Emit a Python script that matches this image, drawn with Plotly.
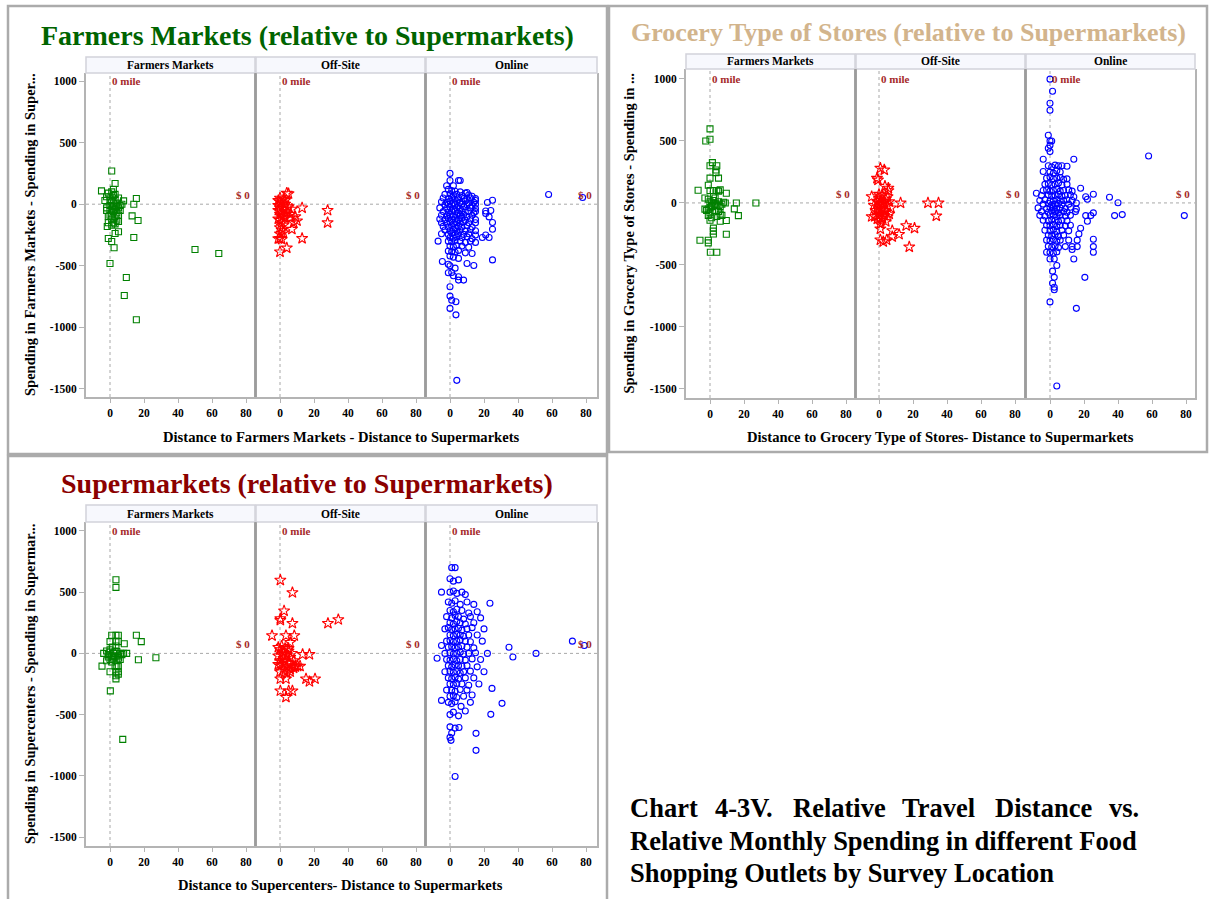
import plotly.graph_objects as go

# ---------------- text ----------------
panel_labels = ["Farmers Markets", "Off-Site", "Online"]
chart_titles = ["Farmers Markets (relative to Supermarkets)",
                "Grocery Type of Stores (relative to Supermarkets)",
                "Supermarkets (relative to Supermarkets)"]
x_titles = ["Distance to Farmers Markets - Distance to Supermarkets",
            "Distance to Grocery Type of Stores- Distance to Supermarkets",
            "Distance to Supercenters- Distance to Supermarkets"]
y_titles = ["Spending in Farmers Markets - Spending in Super...",
            "Spending in Grocery Type of Stores - Spending in ...",
            "Spending in Supercenters - Spending in Supermar..."]
x_tick_vals = [0, 20, 40, 60, 80]
y_tick_vals = [-1500, -1000, -500, 0, 500, 1000]
y_tick_text = ["-1500", "-1000", "-500", "0", "500", "1000"]
caption_line1 = ["Chart", "4-3V.", "Relative", "Travel", "Distance", "vs."]
caption_line2 = "Relative Monthly Spending in different Food"
caption_line3 = "Shopping Outlets by Survey Location"

# ---------------- data: (distance difference, spending difference) ----------------
fm_farm = [(1, 270), (-5, 108), (3, 168), (15.5, 46), (14, 0), (8, 27), (13, -95), (16.5, -132),
           (-1.6, -181), (5, -224), (3, -238), (14, -270), (-1, -278), (1, -303), (2.4, -354),
           (50, -368), (64, -400), (0, -481), (9.6, -595), (8.4, -741), (15.5, -938),
           (-3, 30), (-2, -30), (-1, 90), (0, 60), (0, -10), (0, -50), (1, 100), (1, 20), (1, -80),
           (1, -120), (2, 70), (2, -20), (2, -60), (2, -150), (3, 40), (3, -40), (3, -100), (4, 10),
           (4, -70), (4, -130), (5, 50), (5, -30), (5, -90), (6, -10), (6, -50), (-1, -100), (-2, 60),
           (0, 30), (1, -40), (2, 120), (3, -160), (-1, -150), (2, 10), (3, 80), (4, -20), (5, -140),
           (0, -90), (1, -170), (7, 0), (-2, -50)]
fm_offsite = [(4, 90), (5, 85), (0, 20), (1, 10), (-1, -10), (0, -30), (2, -20), (3, 0), (4, -40),
              (1, -60), (0, -80), (-1, -50), (2, -90), (3, -110), (0, -130), (1, -150), (-1, -120),
              (2, -170), (0, -190), (1, -210), (0, -240), (7, -40), (13, -30), (28, -50), (28, -150),
              (13, -278), (4, -355), (0, -387), (0, -278), (-1, -280), (1, -285), (7, -203), (10, -135),
              (9, -100), (6, -80), (5, -20), (3, 30), (2, 40), (-1, 30), (0, 50), (6, -110), (8, -150),
              (1, -100), (2, -230), (4, -70)]
fm_online = [(0, 250), (0, 192), (5, 192), (6, 192), (-2, 150), (2, 150), (10, 95), (58, 79), (78, 54),
             (22, 14), (25, 32), (24, -51), (23, -103), (25, -149), (25, -203), (21, -55), (21, -75),
             (23, -270), (19, -270), (21, -250), (25, -452), (-7, -300), (-4.5, -465), (-1, -487),
             (0, -500), (-1, -557), (1, -554), (3, -519), (5, -589), (5, -616), (8, -616), (10, -481),
             (14, -497), (2, -581), (0, -670), (0, -746), (1, -779), (3.5, -792), (0, -846), (3.5, -898),
             (4, -1430),
             (-1, 120), (1, 110), (3, 105), (6, 100), (9, 90),
             (-3, 80), (0, 85), (2, 75), (4, 80), (7, 70), (11, 75), (13, 65),
             (-4, 50), (-1, 45), (1, 55), (3, 40), (5, 50), (8, 45), (10, 40), (12, 50), (15, 45), (15, 30),
             (-5, 20), (-2, 15), (0, 25), (2, 10), (4, 20), (6, 15), (9, 25), (11, 10), (14, 15), (15, 0),
             (-3, -5), (-1, 0), (1, -5), (3, 0), (5, -10), (7, 0), (10, -5), (13, -10),
             (-6, -30), (-2, -35), (0, -25), (2, -40), (4, -30), (6, -35), (8, -20), (12, -30), (15, -35),
             (-4, -60), (-1, -65), (1, -55), (3, -60), (5, -70), (7, -55), (9, -65), (11, -60), (14, -70),
             (15, -60), (-5, -90), (-2, -95), (0, -85), (2, -100), (4, -90), (6, -95), (8, -85), (10, -100),
             (13, -90), (-6, -120), (-3, -125), (-1, -115), (1, -130), (3, -120), (5, -125), (7, -115),
             (9, -130), (12, -120), (15, -125), (-5, -150), (-2, -155), (0, -145), (2, -160), (4, -150),
             (6, -155), (8, -145), (11, -150), (15, -150), (-4, -180), (-1, -185), (1, -175), (3, -190),
             (5, -180), (7, -185), (10, -175), (13, -185), (-3, -210), (0, -215), (2, -205), (4, -220),
             (6, -210), (9, -215), (12, -205), (15, -215), (-5, -240), (-1, -245), (1, -235), (3, -250),
             (5, -240), (8, -245), (11, -240), (15, -250), (0, -270), (2, -275), (4, -265), (7, -270),
             (10, -265), (13, -280), (-1, -300), (1, -305), (3, -295), (6, -300), (9, -310), (12, -300),
             (15, -310), (0, -340), (2, -345), (4, -335), (7, -340), (11, -350), (-1, -380), (1, -385),
             (3, -390), (5, -375), (9, -395), (13, -400), (0, -420), (2, -430), (5, -440)]

gr_farm = [(0, 597), (-2.5, 500), (0, 513), (1.4, 325), (0, 300), (4, 300), (3.5, 266), (3.5, 244),
           (0, 200), (5, 200), (-1, 143), (-7, 102), (9.6, 78), (15.5, 0), (27, 0), (16.7, -102),
           (14.3, -48), (9.6, -142), (9.6, -253), (2, -203), (2, -227), (2, -250), (-5.9, -301),
           (-1, -301), (-1, -322), (0.2, -398), (4, -398), (6, -148),
           (-3, 40), (-1, 30), (0, 10), (1, 0), (2, 20), (3, -10), (4, 100), (5, 95), (6, 105), (2, 100),
           (0, 100), (-2, -60), (-1, -50), (0, -40), (1, -30), (3, -60), (5, -70), (6, -90), (7, -100),
           (4, -110), (-1, -100), (1, -120), (0, -80), (3, 0), (5, 10), (8, 5), (9, 0), (2, 50), (1, -20),
           (-3, -50), (0, -140), (4, -20), (6, -30), (3, 40), (7, -10)]
gr_offsite = [(0.8, 280), (3.1, 266), (-1.2, 199), (-0.6, 185), (3.5, 135), (5.5, 120), (5.5, 100),
              (-4.3, 51), (12.7, 0), (28.8, 0), (35, 0), (33.7, -105), (16, -183), (20.9, -204),
              (17.8, -355), (7.8, -223), (11.8, -253), (7.8, -272), (4.5, -298), (0.8, -298),
              (2.5, -312), (-4.3, -110), (-2.5, -110), (0.8, -210), (0.8, -170),
              (-3, -20), (-1, 10), (0, 40), (1, 20), (2, -10), (3, 0), (4, 30), (5, -20), (6, 10), (7, -40),
              (-2, -60), (0, -50), (1, -80), (2, -40), (3, -100), (4, -70), (5, -110), (6, -90), (-1, -130),
              (0, -100), (1, -140), (2, -120), (3, -60), (4, -150), (0, 70), (2, 60), (-1, -30), (5, 50),
              (1, -5), (3, 15)]
gr_online = [(0, 998), (1.5, 900), (0, 804), (0, 747), (-1, 546), (0, 500), (1, 500), (-1, 441), (0, 465),
             (0, 414), (-4, 352), (14, 352), (58, 379), (10, 296), (-4, 253), (10, 194), (-8, 78),
             (18, 118), (25.5, 70), (21, 50), (22, 30), (35, 46), (40, 2), (38, -102), (42.5, -94),
             (79, -102), (21, -102), (24, -102), (25.5, -80), (22, -148), (18, -204), (17, -250),
             (25.5, -293), (25.5, -352), (25.5, -398), (16, -352), (13, -352), (11, -300), (16, -300),
             (13, -375), (14, -452), (20.5, -600), (15.5, -850), (0, -798), (1.5, -550), (2.5, -600),
             (1.5, -648), (2.5, -680), (2.5, -700), (4, -505), (2.5, -452), (0, -452), (-2, -398),
             (4, -1476), (15.5, -50), (15.5, 0), (14, 50),
             (-1, 300), (1, 290), (3, 305), (5, 300), (7, 300), (0, 250), (2, 240), (4, 260), (6, 250),
             (-2, 200), (0, 210), (2, 195), (4, 200), (6, 205), (8, 190), (-3, 150), (-1, 155), (1, 145),
             (3, 150), (5, 160), (7, 145), (10, 150), (-4, 100), (-2, 105), (0, 95), (2, 100), (4, 110),
             (6, 95), (8, 100), (11, 105), (13, 95), (-5, 60), (-1, 65), (1, 55), (3, 60), (5, 70), (7, 55),
             (9, 60), (12, 65), (-6, 20), (-3, 25), (0, 15), (2, 20), (4, 25), (6, 15), (8, 20), (10, 25),
             (13, 20), (-4, -10), (-1, -5), (1, -15), (3, -10), (5, -5), (7, -15), (11, -10), (-7, -40),
             (-2, -45), (0, -35), (2, -40), (4, -50), (6, -40), (9, -45), (12, -35), (-5, -70), (-1, -75),
             (1, -65), (3, -70), (5, -80), (8, -70), (10, -75), (15, -70), (-6, -100), (-3, -105), (0, -95),
             (2, -100), (4, -110), (6, -100), (9, -105), (12, -100), (-4, -140), (-1, -145), (1, -135),
             (3, -140), (5, -150), (7, -140), (10, -145), (-2, -180), (0, -185), (2, -175), (4, -190),
             (6, -180), (9, -185), (12, -180), (-3, -220), (0, -225), (2, -215), (4, -230), (7, -220),
             (11, -225), (-1, -260), (1, -265), (3, -255), (5, -270), (8, -260), (-2, -300), (0, -305),
             (2, -295), (4, -310), (6, -300), (-1, -350), (1, -355), (3, -345), (5, -360), (9, -352),
             (0, -400), (2, -405), (4, -395)]

sc_farm = [(3.5, 601), (3.5, 539), (1, 148), (3.5, 148), (4.9, 148), (15.5, 148), (18.4, 96), (0, 96),
           (3.5, 96), (4.9, 96), (8.4, 79), (1.4, 52), (3.5, 60), (-3.7, 0), (9.8, 0), (27, -36),
           (16.7, -52), (-4.7, -104), (0, -150), (3.5, -150), (4.9, -169), (3.5, -183), (4.9, -150),
           (3.5, -208), (0.2, -306), (7.5, -702), (4.9, -104), (4, -104), (3, -104),
           (-2, 20), (-1, -10), (0, 10), (1, -20), (2, 0), (3, -30), (4, 15), (5, -40), (6, 0), (7, -10),
           (0, -50), (-2, -60), (1, -70), (2, -40), (4, -60), (5, -20), (6, -50), (0, 30), (-1, -30),
           (3, 20), (8, 0)]
sc_offsite = [(0.2, 598), (7.3, 497), (2.4, 347), (0.2, 284), (0.2, 270), (7.3, 246), (28.2, 246),
              (34.3, 276), (-4.7, 145), (3.5, 145), (8.4, 145), (6, 90), (13.3, -8), (17.3, -8),
              (10.4, -104), (11.8, -104), (6, -150), (0.2, -208), (3.5, -208), (15.3, -208),
              (20.6, -208), (17.3, -230), (0.2, -306), (5.1, -306), (7.3, -306), (3.5, -358),
              (-1, 50), (0, 30), (1, 60), (2, 10), (3, 40), (4, -10), (5, 20), (6, -30), (7, 0), (8, -60),
              (-1, -20), (0, -60), (1, -90), (2, -40), (3, -70), (4, -110), (5, -80), (6, -130), (7, -100),
              (8, -120), (9, -100), (0, -100), (1, -10), (3, -20), (5, 40), (9, -110), (2, -130),
              (4, -160), (-1, -90), (0, -150)]
sc_online = [(1, 700), (3, 700), (0, 610), (2, 590), (5, 600), (-5, 500), (0, 500), (2, 510), (4, 490),
             (7, 500), (9, 480), (-1, 420), (1, 410), (3, 430), (6, 400), (14, 400), (23.5, 410), (10, 420),
             (0, 350), (2, 340), (4, 360), (7, 350), (11, 330), (16, 340), (-2, 300), (1, 290), (3, 310),
             (5, 300), (8, 280), (12, 300), (18, 290), (0, 250), (2, 240), (4, 260), (6, 250), (9, 240),
             (14, 250), (-3, 200), (-1, 210), (1, 195), (3, 200), (5, 205), (7, 190), (10, 200), (13, 210),
             (20, 200), (0, 150), (2, 145), (4, 155), (6, 150), (8, 140), (11, 150), (16, 150), (-2, 100),
             (0, 105), (2, 95), (4, 100), (6, 110), (9, 100), (12, 95), (19, 100), (-5, 65), (-1, 50),
             (1, 55), (3, 45), (5, 50), (7, 60), (10, 50), (14, 45), (34.7, 50), (72, 100), (79, 65),
             (-3, 0), (0, 5), (2, -5), (4, 0), (6, 10), (8, -5), (11, 0), (15, 5), (22, 0), (50.6, 0),
             (37, -30), (-7.6, -40), (-2, -50), (0, -55), (2, -45), (4, -60), (6, -50), (9, -55), (13, -45),
             (18, -50), (-1, -100), (1, -110), (3, -95), (5, -100), (7, -105), (10, -100), (16, -110),
             (-3, -150), (0, -145), (2, -155), (4, -150), (6, -160), (8, -150), (12, -145), (20, -150),
             (-1, -200), (1, -205), (3, -195), (5, -210), (9, -200), (14, -200), (0, -250), (2, -255),
             (4, -245), (7, -250), (11, -260), (17, -250), (-2, -300), (1, -300), (3, -310), (6, -295),
             (10, -300), (24.7, -286), (0, -350), (2, -345), (4, -360), (8, -350), (13, -340), (-5, -384),
             (-1, -400), (1, -410), (3, -395), (6.5, -433), (30.6, -408), (12, -400), (0, -500), (2, -480),
             (5, -510), (24, -498), (9, -470), (0, -600), (3, -610), (5.3, -605), (1, -650), (15.3, -653),
             (0, -686), (0.6, -710), (15.3, -792), (3, -1005)]

chart_data = [[fm_farm, fm_offsite, fm_online],
              [gr_farm, gr_offsite, gr_online],
              [sc_farm, sc_offsite, sc_online]]

# ---------------- layout geometry (pixels) ----------------
W, H = 1210, 899
FONT = "Liberation Serif, Times New Roman, serif"
LBL = "#A52A2A"
PXU = 1.7  # pixels per mile

geo = [
    dict(px=[(86, 255), (256, 425), (426, 597)], zero=[110, 280, 450], strip=(57, 73), plot=(73, 397),
         yr=[-1565, 1065], tx=307, ty=35, tsize=28, tcolor="#006400", ylx=30, xlx=341, xly=437,
         box=(8, 6, 607, 454)),
    dict(px=[(686, 855), (856, 1025), (1026, 1195)], zero=[710, 879, 1050], strip=(54, 69), plot=(69, 398),
         yr=[-1573, 1080], tx=908, ty=33, tsize=26, tcolor="#D2B48C", ylx=628, xlx=940, xly=437,
         box=(609, 6, 1207, 452)),
    dict(px=[(86, 255), (256, 425), (426, 597)], zero=[110, 280, 450], strip=(505, 522), plot=(522, 846),
         yr=[-1573, 1073], tx=307, ty=483, tsize=28, tcolor="#8B0000", ylx=30, xlx=340, xly=885,
         box=(8, 456, 607, 915)),
]

styles = [dict(symbol="square-open", color="#008000", size=6),
          dict(symbol="star-open", color="#FF0000", size=8.5),
          dict(symbol="circle-open", color="#0000FF", size=6)]


def fx(x):
    return x / W


def fy(y):
    return 1 - y / H


fig = go.Figure()
layout = dict(width=W, height=H, margin=dict(l=0, r=0, t=0, b=0), paper_bgcolor="white",
              plot_bgcolor="white", showlegend=False)
shapes, annotations = [], []

for c, g in enumerate(geo):
    T, B = g["plot"]
    x0, y0, x1, y1 = g["box"]
    shapes.append(dict(type="rect", xref="paper", yref="paper", x0=fx(x0), x1=fx(x1), y0=fy(y0), y1=fy(y1),
                       line=dict(color="#ababab", width=2.5), fillcolor="rgba(0,0,0,0)", layer="above"))
    annotations.append(dict(xref="paper", yref="paper", x=fx(g["tx"]), y=fy(g["ty"]), xanchor="center",
                            yanchor="middle", showarrow=False, text="<b>%s</b>" % chart_titles[c],
                            font=dict(family=FONT, size=g["tsize"], color=g["tcolor"])))
    annotations.append(dict(xref="paper", yref="paper", x=fx(g["ylx"]), y=fy((T + B) / 2), xanchor="center",
                            yanchor="middle", showarrow=False, textangle=-90,
                            text="<b>%s</b>" % y_titles[c], font=dict(family=FONT, size=14.5, color="black")))
    annotations.append(dict(xref="paper", yref="paper", x=fx(g["xlx"]), y=fy(g["xly"]), xanchor="center",
                            yanchor="middle", showarrow=False, text="<b>%s</b>" % x_titles[c],
                            font=dict(family=FONT, size=14.6, color="black")))
    s0, s1 = g["strip"]
    for p in range(3):
        n = c * 3 + p + 1
        L, R = g["px"][p]
        z = g["zero"][p]
        xr = [(L - z) / PXU, (R - z) / PXU]
        xa = "xaxis" if n == 1 else "xaxis%d" % n
        ya = "yaxis" if n == 1 else "yaxis%d" % n
        xs = "x" if n == 1 else "x%d" % n
        ys = "y" if n == 1 else "y%d" % n
        layout[xa] = dict(domain=[fx(L), fx(R)], range=xr, anchor=ys, showgrid=False, zeroline=False,
                          showline=True, linecolor="#b4b4b4", linewidth=2, ticks="outside", ticklen=4,
                          tickcolor="#b4b4b4", tickvals=x_tick_vals, ticktext=[str(v) for v in x_tick_vals],
                          tickfont=dict(family=FONT, size=11.5, color="black", weight="bold"))
        layout[ya] = dict(domain=[fy(B), fy(T)], range=g["yr"], anchor=xs, showgrid=False, zeroline=False,
                          showline=True, mirror=True, linecolor="#b4b4b4", linewidth=2,
                          ticks="outside" if p == 0 else "", ticklen=5, tickcolor="#b4b4b4",
                          tickvals=y_tick_vals, ticktext=y_tick_text, showticklabels=(p == 0),
                          tickfont=dict(family=FONT, size=11.5, color="black", weight="bold"))
        pts = chart_data[c][p]
        st = styles[p]
        fig.add_trace(go.Scatter(x=[q[0] for q in pts], y=[q[1] for q in pts], mode="markers",
                                 xaxis=xs, yaxis=ys, hoverinfo="skip",
                                 marker=dict(symbol=st["symbol"], size=st["size"], color=st["color"],
                                             line=dict(color=st["color"], width=1.1))))
        shapes.append(dict(type="line", xref=xs, yref=ys + " domain", x0=0, x1=0, y0=0, y1=1,
                           line=dict(color="#a8a8a8", width=1, dash="dot"), layer="below"))
        shapes.append(dict(type="line", xref=xs + " domain", yref=ys, x0=0, x1=1, y0=0, y1=0,
                           line=dict(color="#a8a8a8", width=1, dash="dot"), layer="below"))
        annotations.append(dict(xref=xs, yref=ys, x=0, y=1000, xanchor="left", yanchor="middle", xshift=0,
                                showarrow=False, text="<b>0 mile</b>",
                                font=dict(family=FONT, size=11, color=LBL)))
        annotations.append(dict(xref=xs, yref=ys, x=xr[1], y=0, xanchor="right", yanchor="bottom", xshift=-3,
                                yshift=1, showarrow=False, text="<b>$ 0</b>",
                                font=dict(family=FONT, size=11, color=LBL)))
        shapes.append(dict(type="rect", xref="paper", yref="paper", x0=fx(L), x1=fx(R), y0=fy(s1), y1=fy(s0),
                           line=dict(color="#d2d2da", width=1.5), fillcolor="#F7F8FD", layer="above"))
        annotations.append(dict(xref="paper", yref="paper", x=fx((L + R) / 2), y=fy((s0 + s1) / 2),
                                xanchor="center", yanchor="middle", showarrow=False,
                                text="<b>%s</b>" % panel_labels[p], font=dict(family=FONT, size=11.5, color="black")))
    for p in range(2):
        xsep = (g["px"][p][1] + g["px"][p + 1][0]) / 2
        shapes.append(dict(type="line", xref="paper", yref="paper", x0=fx(xsep), x1=fx(xsep), y0=fy(B), y1=fy(T),
                           line=dict(color="#9c9c9c", width=2.5), layer="above"))

# caption (line 1 justified)
cap_x = [628, 712.7, 790.8, 900.5, 992.6, 1106.7]
for wd, xx in zip(caption_line1, cap_x):
    annotations.append(dict(xref="paper", yref="paper", x=fx(xx), y=fy(808), xanchor="left", yanchor="middle",
                            showarrow=False, text="<b>%s</b>" % wd, font=dict(family=FONT, size=26.5, color="black")))
for txt, yy in [(caption_line2, 841), (caption_line3, 873)]:
    annotations.append(dict(xref="paper", yref="paper", x=fx(628), y=fy(yy), xanchor="left", yanchor="middle",
                            showarrow=False, text="<b>%s</b>" % txt, font=dict(family=FONT, size=26.5, color="black")))

layout["shapes"] = shapes
layout["annotations"] = annotations
fig.update_layout(**layout)
fig.write_html("out.html")
